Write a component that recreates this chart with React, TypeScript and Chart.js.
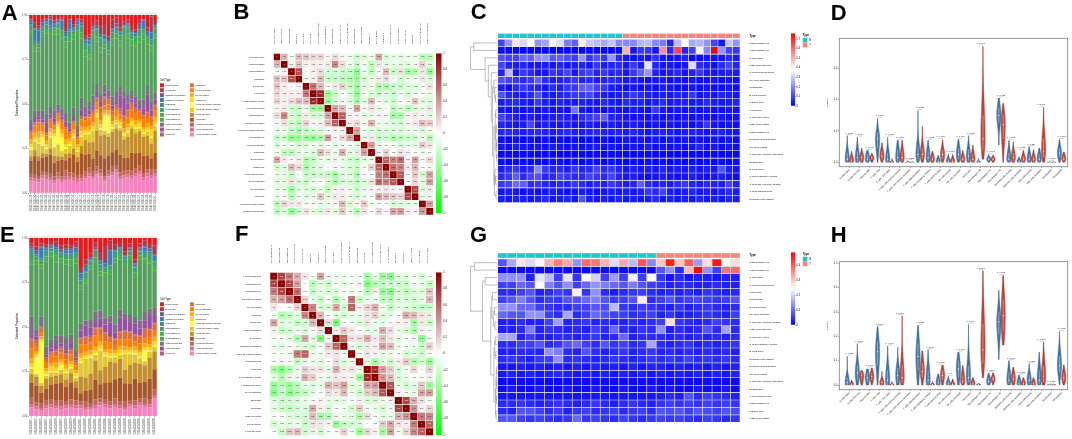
import React, { useEffect, useRef } from "react";
import { Chart, registerables } from "chart.js";

Chart.register(...registerables);

const FF = "'Liberation Sans', Arial, Helvetica, sans-serif";

// ================= shared categories =================
const cellTypes = [
  "B cells memory", "B cells naive", "Dendritic cells activated", "Dendritic cells resting",
  "Eosinophils", "Macrophages M0", "Macrophages M1", "Macrophages M2",
  "Mast cells activated", "Mast cells resting", "Monocytes", "Neutrophils",
  "NK cells activated", "NK cells resting", "Plasma cells", "T cells CD4 memory activated",
  "T cells CD4 memory resting", "T cells CD4 naive", "T cells CD8", "T cells follicular helper",
  "T cells gamma delta", "T cells regulatory (Tregs)",
];
const cellColors = [
  "#E41A1C", "#AA3B50", "#715D84", "#377EB8", "#3E8E93", "#469F6F", "#4DAF4A", "#56A05E",
  "#7F6E85", "#984EA3", "#BA5E6D", "#DD6F36", "#FF7F00", "#FFAA11", "#FFD422", "#FFFF33",
  "#E1C72F", "#C48E2C", "#A65628", "#C1645A", "#DC738D", "#F781BF",
];
const propTicks = [0, 0.25, 0.5, 0.75, 1];

// ================= Panel A (stacked proportions, 33 samples) =================
const samplesA = [
  "GSM1603129", "GSM1603130", "GSM1603131", "GSM1603132", "GSM1603133", "GSM1603134", "GSM1603135",
  "GSM1603136", "GSM1603137", "GSM1603138", "GSM1603139", "GSM1603140", "GSM1603141", "GSM1603142",
  "GSM1603143", "GSM1603144", "GSM1603145", "GSM1603146", "GSM1603147", "GSM1603148", "GSM1603149",
  "GSM1603150", "GSM1603151", "GSM1603152", "GSM1603153", "GSM1603154", "GSM1603155", "GSM1603156",
  "GSM1603157", "GSM1603158", "GSM1603159", "GSM1603160", "GSM1603161",
];
// rows follow cellTypes order, values in percent
const propA = [
  [2,5,7,3,2,1,4,2,2,8,2, 6,2,3,14,14,5,4,8,7,18,3, 2,9,5,3,7,10,3,2,9,1,4],
  [1,4,2,1,1,1,2,1,1,2,1, 2,1,2,3,2,3,4,6,8,3,6, 4,3,2,3,4,2,3,1,3,10,2],
  [1,1,1,1,1,1,1,1,1,1,1, 1,1,1,1,2,1,1,1,1,1,1, 2,1,1,1,1,1,1,1,1,1,1],
  [2,7,8,3,1,4,1,1,6,2,6, 1,2,1,2,3,1,1,1,3,2,1, 1,1,1,1,1,1,2,5,2,5,1],
  [1,2,1,1,1,2,1,1,1,1,1, 1,1,1,1,1,1,1,1,1,1,1, 1,1,1,1,1,1,1,1,1,1,1],
  [3,2,2,2,3,2,2,3,2,2,4, 2,3,4,4,6,3,5,6,3,5,4, 3,4,5,4,3,4,5,3,2,3,4],
  [3,4,3,4,3,4,3,4,4,4,3, 3,4,4,4,4,3,4,4,3,3,5, 4,4,3,4,4,3,4,4,3,4,3],
  [55,40,38,50,52,45,55,48,50,40,55, 45,56,40,35,30,40,32,30,28,30,35, 38,30,42,40,32,35,40,42,30,35,36],
  [5,5,4,6,5,5,6,4,6,5,4, 6,5,8,5,6,8,6,5,6,5,6, 7,6,5,6,6,5,5,6,6,6,5],
  [2,3,2,2,6,2,3,1,2,3,2, 2,2,5,2,3,2,4,3,3,2,3, 2,10,14,4,2,3,2,4,12,4,3],
  [1,1,1,1,1,1,1,1,1,1,1, 1,1,1,1,1,1,1,1,1,1,1, 1,1,1,1,1,1,1,1,1,1,1],
  [1,1,1,1,1,1,1,1,1,1,1, 1,1,1,2,1,2,3,4,6,4,3, 2,3,4,5,4,3,2,3,4,3,3],
  [4,5,6,4,3,5,3,4,5,6,3, 4,3,5,5,6,6,5,5,4,5,4, 5,4,5,4,6,5,4,5,4,3,5],
  [3,3,4,2,3,2,3,2,3,3,2, 3,2,3,2,3,3,3,3,2,3,2, 3,2,3,3,2,3,2,2,3,2,3],
  [2,2,3,2,2,3,2,2,3,2,2, 2,2,3,2,2,2,2,3,2,2,2, 2,3,2,3,2,2,3,2,2,5,2],
  [2,1,1,6,1,1,8,12,10,1,1, 1,1,1,1,1,1,1,1,12,14,1, 1,1,1,1,1,1,1,1,1,1,1],
  [4,6,8,5,3,7,6,8,4,3,5, 7,3,6,4,6,8,10,4,3,3,2, 3,2,3,3,2,3,2,2,3,4,3],
  [3,4,3,3,2,4,5,3,2,4,3, 4,3,5,10,8,12,15,14,18,16,14, 15,18,14,15,17,14,15,13,14,10,15],
  [8,12,10,9,10,12,10,8,12,6,10, 12,9,14,12,10,9,12,10,14,12,10, 11,13,10,9,12,11,9,12,10,8,11],
  [3,3,2,3,2,3,3,3,2,4,3, 3,2,3,3,4,3,4,3,2,3,4, 3,3,4,3,4,3,4,3,3,4,3],
  [2,2,2,2,2,2,2,2,2,2,2, 2,2,2,2,2,2,2,2,2,2,2, 2,2,2,2,2,2,2,2,2,2,2],
  [8,8,7,10,9,8,7,9,8,8,9, 8,7,8,10,12,10,14,12,9,14,12, 15,10,12,11,10,12,13,9,12,10,11],
];

// ================= Panel E (stacked proportions, 26 samples) =================
const samplesE = [
  "GSM3330071", "GSM3330072", "GSM3330073", "GSM3330074", "GSM3330075", "GSM3330076", "GSM3330077",
  "GSM3330078", "GSM3330079", "GSM3330080", "GSM3330081", "GSM3330082", "GSM3330083", "GSM3330084",
  "GSM3330085", "GSM3330086", "GSM3330087", "GSM3330088", "GSM3330089", "GSM3330090", "GSM3330091",
  "GSM3330092", "GSM3330093", "GSM3330094", "GSM3330095", "GSM3330096",
];
const propE = [
  [3,6,4,4,2,2,5,4,5,2,22, 16,12,3,10,6,2,5,3,10,4,16, 4,2,4,5],
  [2,3,2,2,2,3,3,3,2,3,3, 4,3,4,6,12,6,3,3,3,3,3, 3,4,3,6],
  [1,1,1,1,1,1,1,1,1,1,1, 1,1,1,1,1,1,1,1,1,1,1, 1,1,1,1],
  [1,2,8,1,1,1,1,2,2,3,4, 4,1,1,1,2,10,1,1,1,1,1, 1,3,1,3],
  [1,1,1,1,1,1,1,1,1,1,1, 1,1,1,1,1,1,1,1,1,1,1, 1,1,1,1],
  [4,3,3,3,2,3,3,3,3,3,4, 4,3,4,5,4,4,4,3,3,3,4, 3,4,4,3],
  [3,4,3,3,3,4,3,3,4,3,3, 4,3,4,3,4,3,3,4,3,4,3, 3,4,3,3],
  [30,45,35,55,55,45,50,48,45,55,25, 28,38,35,25,30,30,45,38,35,40,30, 45,35,30,25],
  [10,5,6,5,6,6,6,8,6,4,5, 4,6,8,6,5,5,6,6,5,6,5, 6,6,5,6],
  [2,3,1,2,2,3,2,2,3,2,5, 8,6,3,6,6,10,4,10,8,6,8, 5,6,8,4],
  [1,1,1,1,1,1,1,1,1,1,1, 1,1,1,1,1,1,1,1,1,1,1, 1,1,1,1],
  [5,3,3,2,2,3,3,3,3,2,4, 5,4,5,4,6,4,4,5,6,5,4, 5,6,5,5],
  [6,4,3,4,5,4,5,3,4,3,7, 5,6,8,5,6,5,4,5,5,6,4, 5,4,5,4],
  [3,2,2,2,2,3,2,3,2,2,3, 3,3,3,3,2,3,2,3,3,2,3, 2,3,2,3],
  [2,2,2,2,3,2,2,2,2,2,3, 2,2,2,3,2,2,2,3,2,2,2, 3,2,2,3],
  [1,12,30,1,1,1,3,1,1,1,1, 1,1,1,1,1,1,1,1,1,1,1, 1,8,1,1],
  [3,2,2,2,3,2,3,4,3,2,10, 14,12,4,14,8,3,4,3,12,8,6, 4,3,4,3],
  [5,6,5,6,5,5,6,5,6,4,12, 10,12,14,10,12,15,12,14,10,14,12, 14,12,14,12],
  [8,12,8,8,10,10,12,9,11,8,6, 8,10,14,10,12,14,14,18,14,12,16, 12,12,14,14],
  [4,3,3,3,3,3,4,3,3,3,3, 4,3,4,3,4,3,4,3,4,3,4, 3,4,3,4],
  [2,2,2,2,2,2,2,2,2,2,2, 2,2,2,2,2,2,2,2,2,2,2, 2,2,2,2],
  [5,5,4,5,6,5,5,5,6,5,6, 5,5,6,8,7,6,7,6,5,7,6, 8,7,6,12],
];

// ================= Panel B (correlation, 22 cell types) =================
const corrNamesB = [
  "T cells CD4 naive", "Mast cells resting", "Macrophages M0", "Neutrophils", "B cells naive",
  "T cells CD8", "T cells regulatory (Tregs)", "T cells gamma delta", "Macrophages M1",
  "Dendritic cells resting", "T cells CD4 memory activated", "Macrophages M2", "Mast cells activated",
  "Eosinophils", "B cells memory", "Plasma cells", "T cells follicular helper", "NK cells activated",
  "NK cells resting", "Monocytes", "T cells CD4 memory resting", "Dendritic cells activated",
];
// upper triangle, row i holds r(i, j) for j > i
const corrUpperB = [
  [0.29,-0.05,0.26,0.23,0.16,0.17,0.04,0.14,0.04,-0.08,-0.21,-0.17,-0.07,0.35,-0.2,-0.1,-0.13,-0.08,-0.09,-0.29,-0.27],
  [0.05,0.24,0.06,0.08,0.06,0.09,0.47,0.14,-0.09,-0.23,-0.06,-0.26,0.1,-0.13,-0.1,-0.14,-0.13,-0.03,0.18,-0.15],
  [0.69,0,0.07,0.15,-0.2,-0.18,-0.21,-0.23,-0.46,-0.06,-0.26,0.01,0.27,-0.24,0.13,-0.37,-0.3,0.1,-0.42],
  [0.03,0.07,0.27,-0.23,-0.24,-0.28,-0.32,-0.4,-0.18,-0.09,0.08,0.15,0,-0.2,-0.1,-0.06,0.1,-0.18],
  [0.53,0.27,-0.05,0.09,0.18,-0.23,-0.38,-0.14,-0.09,-0.33,-0.35,-0.21,-0.24,-0.14,-0.13,-0.05,0.11],
  [0.86,-0.41,-0.2,0.02,-0.14,-0.43,-0.04,-0.16,-0.23,-0.13,-0.22,-0.05,-0.18,-0.08,-0.03,-0.09],
  [-0.39,-0.17,0.05,-0.14,-0.33,-0.12,0.28,-0.05,-0.14,-0.2,0.01,-0.09,0.24,-0.12,-0.17],
  [0.35,0.27,-0.05,0.38,-0.02,0.12,-0.12,0,-0.25,-0.16,-0.27,-0.15,-0.09,0.11],
  [0.63,0.05,0.04,-0.13,-0.09,0.06,0.03,-0.37,-0.34,0.05,0.1,0.05,-0.13],
  [0.07,0.15,0.05,0.31,-0.1,-0.09,-0.12,-0.18,0.06,0.09,0.27,0.21],
  [0.34,-0.07,-0.12,-0.18,-0.16,-0.13,-0.17,-0.09,-0.07,-0.16,-0.08],
  [-0.08,0.1,-0.26,-0.19,-0.32,-0.23,-0.2,-0.18,0.05,-0.31],
  [0.37,-0.12,-0.04,0.01,-0.15,-0.09,-0.1,0.21,0.11],
  [0.03,0.17,-0.03,0.12,0.06,-0.01,-0.07,0.01],
  [0.62,0.5,0.58,0.05,0.38,-0.06,0.16],
  [0.56,0.49,0.1,0.29,-0.01,0.04],
  [0.66,0.04,0.21,-0.18,0.36],
  [-0.02,0.16,-0.13,0.39],
  [0.72,-0.12,0.08],
  [-0.07,0.05],
  [0.38],
];

// ================= Panel F (correlation, 21 cell types) =================
const corrNamesF = [
  "T cells gamma delta", "Macrophages M0", "Macrophages M1", "Dendritic cells resting", "NK cells resting",
  "Monocytes", "Plasma cells", "Mast cells activated", "B cells naive", "Dendritic cells activated",
  "T cells CD4 memory resting", "Macrophages M2", "T cells CD8", "T cells regulatory (Tregs)",
  "T cells follicular helper", "NK cells activated", "Eosinophils", "Neutrophils", "Mast cells resting",
  "B cells memory", "T cells CD4 naive",
];
const corrUpperF = [
  [0.73,0.52,0.31,0.1,-0.04,0.36,0.05,-0.06,-0.07,-0.04,-0.05,-0.34,-0.1,-0.42,-0.5,-0.13,-0.12,-0.06,-0.18,-0.02],
  [0.72,0.37,0,-0.3,-0.14,-0.22,0.01,-0.12,-0.04,0.06,-0.5,-0.3,-0.25,-0.21,-0.23,-0.21,-0.03,-0.08,-0.23],
  [0.56,0.01,-0.23,-0.1,-0.18,-0.11,0.02,-0.08,-0.03,-0.29,0.07,-0.41,-0.48,-0.17,-0.26,-0.14,-0.14,0.23],
  [0.17,-0.1,-0.25,-0.03,-0.31,-0.1,0.51,-0.23,-0.06,-0.08,-0.27,-0.29,-0.17,-0.16,-0.18,-0.07,0.27],
  [0.47,-0.18,-0.17,0.34,-0.16,0.61,0.06,0.18,0.31,-0.06,-0.26,-0.1,-0.15,-0.18,-0.23,-0.21],
  [0.27,-0.01,-0.12,-0.18,-0.09,-0.08,0.11,0.2,-0.15,-0.09,-0.02,0.32,0.27,0.12,0.08],
  [0.13,-0.54,-0.01,-0.05,-0.15,0.11,-0.07,-0.1,-0.01,0.06,0.07,-0.38,0.1,-0.23],
  [0.05,0.21,0.09,-0.01,-0.12,-0.11,0.31,0.14,-0.1,-0.18,-0.32,0.05,-0.04],
  [0.61,0.11,0.13,0.31,0.1,0.24,0.1,-0.12,-0.03,0.05,-0.44,-0.06],
  [-0.05,-0.16,0.1,0.07,0.37,0.27,-0.1,-0.04,-0.1,-0.23,0.19],
  [-0.06,0.11,0.06,-0.13,-0.07,-0.01,-0.2,-0.11,-0.2,-0.05],
  [-0.1,-0.36,-0.1,-0.22,0.07,0.21,-0.33,-0.15,-0.42],
  [0.84,0.36,0.2,-0.17,-0.06,0.15,0,0.17],
  [0.39,0.28,-0.17,-0.1,-0.03,-0.06,0.06],
  [0.67,-0.09,-0.19,-0.13,0.21,-0.4],
  [0.06,-0.07,-0.09,0.35,0.38],
  [0.73,0.31,0.12,-0.06],
  [0.42,0.07,0.17],
  [0.51,0.47],
  [0.62],
];
const corrTicks = [1, 0.8, 0.6, 0.4, 0.2, 0, -0.2, -0.4, -0.6, -0.8, -1];

// ================= Panel C (heatmap, 33 samples) =================
const typeKeys = ["N", "T"];
const typeColors = ["#1CC7CD", "#F2857D"];
const typesC = "NNNNNNNNNNNNNNNNNTTTTTTTTTTTTTTTT".split("");
const rowsC = [
  "Macrophages M2", "Macrophages M0", "T cells CD8", "Mast cells activated", "T cells follicular helper",
  "NK cells activated", "Neutrophils", "B cells memory", "Plasma cells", "Monocytes", "T cells CD4 naive",
  "Mast cells resting", "Macrophages M1", "Dendritic cells activated", "NK cells resting",
  "T cells CD4 memory activated", "Eosinophils", "B cells naive", "T cells regulatory (Tregs)",
  "T cells CD4 memory resting", "T cells gamma delta", "Dendritic cells resting",
];
// percent; 17 N columns then 16 T columns
const heatC = [
  [10,22,42,32,38,22,24,37,33,18,14,41,30,28,25,29,20, 20,20,27,28,20,18,5,28,38,25,27,22,10,3,30,22],
  [2,1,1,1,1,1,1,1,1,1,1,1,1,1,1,1,1, 50,3,8,8,3,55,6,66,5,10,37,20,76,22,10,8],
  [12,10,10,15,14,21,22,13,14,11,9,22,8,12,8,22,6, 3,2,4,3,7,3,2,3,5,2,2,3,2,3,6,4],
  [10,5,4,5,3,3,4,3,5,3,4,5,3,8,4,5,6, 3,8,4,34,5,3,3,2,3,33,6,4,2,6,10,5],
  [5,28,3,8,6,3,3,8,6,10,3,8,10,5,8,5,6, 3,8,14,22,5,3,4,6,3,5,8,4,3,4,5,4],
  [12,10,8,6,8,14,6,4,5,6,8,5,6,4,5,6,5, 3,4,3,2,3,4,2,3,2,3,2,2,3,2,3,2],
  [4,2,6,8,6,5,3,6,4,8,8,14,14,10,8,4,3, 2,3,2,3,2,4,3,2,2,3,2,3,2,2,3,2],
  [12,6,4,4,6,12,4,3,5,6,8,8,10,6,4,3,4, 5,8,6,4,3,4,3,5,4,8,3,4,3,5,4,3],
  [4,5,6,4,3,8,4,3,5,4,3,5,4,3,6,4,3, 6,4,5,3,4,6,3,4,5,3,4,6,4,3,4,5],
  [3,2,3,2,3,2,3,2,3,2,17,3,2,3,2,3,2, 2,3,2,2,8,3,2,3,2,3,2,3,2,2,3,2],
  [10,6,4,3,4,3,3,4,5,4,3,6,8,10,14,5,4, 3,2,3,2,3,2,3,2,3,2,3,2,2,3,2,3],
  [5,4,3,4,10,3,4,3,3,4,3,3,4,3,3,4,3, 3,4,3,2,3,2,3,2,3,2,3,8,3,2,3,2],
  [5,6,5,4,5,6,5,4,5,6,5,4,5,6,5,4,5, 4,5,4,3,4,5,4,3,4,5,4,3,4,5,4,3],
  [2,1,2,1,2,1,2,1,2,1,2,1,2,1,2,1,2, 3,2,3,2,3,2,3,2,3,2,3,2,3,2,3,2],
  [3,2,4,3,2,3,2,4,3,2,3,2,3,4,2,3,2, 2,3,2,4,2,3,2,3,2,3,5,2,3,2,3,2],
  [1,1,1,1,1,1,1,1,1,1,1,1,1,1,1,1,1, 1,1,1,1,1,1,1,1,1,1,1,1,1,1,1,1],
  [2,1,2,2,1,2,1,2,2,1,2,1,2,2,1,2,1, 1,2,1,2,1,2,1,2,1,2,1,2,1,2,1,2],
  [4,6,8,4,6,20,8,5,6,4,8,5,6,10,6,8,5, 3,4,3,4,3,5,3,4,3,4,3,4,3,12,4,3],
  [6,8,14,6,10,12,5,6,10,8,6,6,10,8,6,10,5, 3,4,3,2,3,4,3,2,3,4,3,2,3,4,3,2],
  [8,10,16,14,6,8,5,4,6,5,8,6,4,6,5,8,6, 4,5,14,6,4,5,4,6,8,5,4,6,5,4,10,5],
  [3,4,3,2,3,2,3,4,3,2,3,4,3,2,3,4,3, 4,3,4,8,6,10,4,3,4,5,3,4,3,4,6,4],
  [4,3,5,4,3,4,6,3,4,5,3,12,4,3,4,3,5, 3,4,3,4,6,3,4,3,4,3,5,3,4,3,5,4],
];
const vmaxC = 76;
const cbTicksC = [0, 0.1, 0.2, 0.3, 0.4, 0.5, 0.6, 0.7];
// hclust merges: [a, b, height]; negative = row (1-based), positive = earlier merge
const mergesC = [
  [-8,-9,0.06],[-7,1,0.09],[-6,2,0.12],[-10,-11,0.05],[-12,-13,0.03],[-14,-15,0.02],[-16,-17,0.015],
  [6,7,0.03],[5,8,0.05],[4,9,0.07],[-19,-20,0.06],[-18,11,0.08],[-21,-22,0.04],[12,13,0.1],
  [10,14,0.12],[3,15,0.17],[-5,16,0.22],[-4,17,0.33],[-3,18,0.45],[-1,-2,0.88],[20,19,1.0],
];

// ================= Panel G (heatmap, 26 samples) =================
const typesG = "NNNNNNNNNNNNNNNNNTTTTTTTTT".split("");
const rowsG = [
  "Macrophages M2", "Macrophages M0", "T cells CD8", "T cells follicular helper", "Monocytes", "Neutrophils",
  "B cells memory", "NK cells activated", "T cells CD4 memory resting", "Mast cells activated",
  "T cells CD4 naive", "T cells regulatory (Tregs)", "B cells naive", "Dendritic cells resting",
  "Dendritic cells activated", "NK cells resting", "T cells CD4 memory activated", "Eosinophils",
  "T cells gamma delta", "Macrophages M1", "Plasma cells", "Mast cells resting",
];
const heatG = [
  [8,16,27,21,25,32,37,33,14,39,38,32,21,33,18,41,13, 30,46,30,40,15,28,47,24,28],
  [1,1,1,1,1,1,1,1,1,1,1,1,1,1,1,1,1, 8,14,4,31,48,14,6,38,39],
  [14,14,14,3,22,18,6,22,5,24,20,6,15,6,23,6,25, 5,2,4,2,3,3,2,3,3],
  [6,6,10,8,25,12,8,14,6,10,14,12,10,8,12,8,6, 5,3,4,4,3,3,4,3,3],
  [4,4,6,8,3,4,6,5,26,5,14,4,3,4,5,6,4, 3,4,3,4,3,5,4,3,4],
  [6,8,12,8,4,6,5,8,8,10,12,8,6,6,8,26,4, 6,8,5,6,7,6,5,6,8],
  [14,14,10,10,6,5,4,4,6,6,8,7,18,5,4,6,5, 4,3,5,3,4,5,4,3,4],
  [10,8,8,14,14,6,4,16,4,6,10,8,6,6,4,5,6, 3,5,3,3,4,5,4,3,6],
  [3,3,4,3,3,6,15,3,4,5,3,4,3,3,4,3,4, 6,28,5,4,3,4,6,5,4],
  [3,3,4,12,3,5,4,3,4,3,6,4,10,4,3,5,4, 14,3,4,3,4,8,4,16,4],
  [16,16,3,6,3,3,4,4,3,4,5,3,4,10,3,4,4, 4,3,4,3,4,3,4,3,4],
  [4,4,6,6,8,4,5,8,10,6,4,8,5,6,4,5,16, 4,3,4,5,3,4,3,4,5],
  [3,3,4,4,3,14,12,4,3,8,4,3,4,5,3,4,5, 3,4,3,4,3,4,3,4,3],
  [4,5,4,3,5,6,14,4,5,4,3,4,5,4,3,4,5, 4,5,4,6,4,5,4,5,4],
  [2,2,3,2,3,2,3,2,3,2,3,2,3,2,3,2,3, 3,2,3,2,3,2,3,2,3],
  [2,3,2,3,2,3,4,3,2,3,2,3,2,3,2,3,2, 3,2,3,2,3,2,3,2,3],
  [1,1,1,1,1,1,1,1,1,1,1,1,1,1,1,1,1, 1,1,1,1,1,1,1,1,1],
  [1,2,1,1,2,1,1,2,1,1,2,1,1,2,1,1,2, 1,2,1,1,2,1,1,2,1],
  [2,2,2,2,2,2,2,2,2,2,2,2,2,2,2,2,2, 3,4,3,8,4,6,5,4,3],
  [4,4,5,4,3,4,5,4,3,4,5,4,3,4,5,4,3, 5,6,5,6,5,6,5,6,5],
  [4,3,8,8,6,4,6,3,5,6,4,5,6,4,5,6,4, 8,7,8,6,8,7,6,8,7],
  [8,8,6,5,6,5,4,5,10,5,6,5,4,6,5,4,5, 6,5,6,5,4,6,5,4,5],
];
const vmaxG = 49;
const cbTicksG = [0, 0.1, 0.2, 0.3, 0.4];
const mergesG = [
  [-3,-4,0.45],[-5,-6,0.18],[-7,-8,0.1],[-9,-10,0.08],[3,4,0.14],[2,5,0.2],[-11,-12,0.07],
  [-13,-14,0.05],[7,8,0.09],[-15,-16,0.02],[-17,-18,0.01],[10,11,0.03],[-19,-20,0.02],[12,13,0.04],
  [-21,-22,0.04],[14,15,0.06],[9,16,0.12],[6,17,0.24],[1,18,0.55],[-1,-2,0.85],[20,19,1.0],
];

// ================= Panels D / H (violins) =================
const violinCats = [
  "B cells naive", "B cells memory", "Plasma cells", "T cells CD8", "T cells CD4 naive",
  "T cells CD4 memory resting", "T cells CD4 memory activated", "T cells follicular helper",
  "T cells regulatory (Tregs)", "T cells gamma delta", "NK cells resting", "NK cells activated",
  "Monocytes", "Macrophages M0", "Macrophages M1", "Macrophages M2", "Dendritic cells resting",
  "Dendritic cells activated", "Mast cells resting", "Mast cells activated", "Eosinophils", "Neutrophils",
];
const dNMin = [0,0,0,0,0,0,0,0,0,0,0,0,0,0,0,0.11,0,0,0,0,0,0];
const dNQ1 = [0,0.005,0.005,0.09,0,0.005,0,0.02,0.01,0,0,0.02,0.01,0,0.01,0.25,0.005,0,0.005,0.005,0,0.03];
const dNMed = [0.02,0.03,0.02,0.15,0.02,0.03,0,0.05,0.03,0.005,0.005,0.05,0.04,0.002,0.02,0.3,0.02,0.005,0.02,0.02,0,0.06];
const dNQ3 = [0.06,0.07,0.05,0.19,0.06,0.08,0.002,0.1,0.07,0.02,0.02,0.09,0.08,0.006,0.03,0.35,0.06,0.015,0.05,0.05,0.001,0.09];
const dNMax = [0.17,0.16,0.075,0.28,0.16,0.14,0.01,0.33,0.14,0.045,0.05,0.145,0.17,0.025,0.05,0.41,0.14,0.035,0.1,0.09,0.005,0.145];
const dTMin = [0,0,0,0,0,0,0,0,0,0,0,0,0,0.02,0,0,0,0,0,0,0,0];
const dTQ1 = [0,0.01,0.015,0.02,0,0.01,0,0.02,0.005,0.02,0,0.005,0.005,0.08,0.01,0.15,0.01,0.005,0.005,0.03,0,0.01];
const dTMed = [0.01,0.03,0.03,0.04,0.002,0.03,0,0.05,0.02,0.05,0.005,0.02,0.02,0.15,0.02,0.24,0.03,0.02,0.02,0.07,0,0.02];
const dTQ3 = [0.03,0.05,0.04,0.07,0.006,0.07,0.001,0.09,0.04,0.08,0.02,0.04,0.05,0.3,0.03,0.3,0.06,0.04,0.04,0.15,0.001,0.04];
const dTMax = [0.07,0.09,0.057,0.125,0.025,0.14,0.005,0.23,0.07,0.145,0.05,0.075,0.11,0.74,0.045,0.375,0.13,0.075,0.08,0.35,0.005,0.065];
const pD = ["p=0.059","p=0.064","p=0.466","p<0.001","p=0.002","p=0.510","p=0.333","p=0.336","p=0.003","p=0.003","p=0.015","p=0.006","p=0.068","p<0.001","p=0.271","p=0.023","p=0.393","p=0.028","p=0.324","p<0.001","p=0.160","p=0.001"];
const dTicks = [0, 0.2, 0.4, 0.6];

const hNMin = [0,0,0,0,0,0,0,0,0,0,0,0,0,0,0,0.105,0,0,0,0,0,0];
const hNQ1 = [0,0.02,0.01,0.08,0,0.01,0,0.06,0.005,0,0,0.03,0.01,0,0.005,0.21,0.005,0,0.005,0.005,0,0.05];
const hNMed = [0.01,0.05,0.03,0.137,0.02,0.04,0,0.118,0.02,0.01,0.005,0.066,0.03,0.001,0.015,0.26,0.02,0.005,0.02,0.02,0,0.08];
const hNQ3 = [0.03,0.08,0.05,0.18,0.06,0.07,0,0.17,0.06,0.025,0.015,0.1,0.08,0.003,0.03,0.3,0.05,0.02,0.04,0.06,0.001,0.12];
const hNMax = [0.118,0.17,0.066,0.24,0.16,0.155,0,0.245,0.145,0.045,0.035,0.135,0.25,0.007,0.048,0.39,0.1,0.041,0.088,0.135,0.003,0.22];
const hTMin = [0,0,0,0,0,0,0,0,0,0,0,0,0,0.03,0,0.165,0,0,0,0,0,0];
const hTQ1 = [0,0.02,0.02,0,0,0.01,0,0.03,0,0.02,0,0.005,0,0.09,0.015,0.22,0.01,0,0,0.01,0,0.015];
const hTMed = [0.002,0.04,0.035,0.01,0.002,0.03,0,0.055,0.002,0.04,0.003,0.015,0.005,0.145,0.025,0.285,0.025,0.005,0.005,0.035,0,0.03];
const hTQ3 = [0.008,0.05,0.05,0.02,0.004,0.08,0,0.09,0.005,0.06,0.01,0.04,0.015,0.25,0.035,0.35,0.045,0.015,0.015,0.08,0.001,0.05];
const hTMax = [0.02,0.06,0.07,0.056,0.015,0.285,0,0.14,0.015,0.082,0.025,0.08,0.03,0.47,0.05,0.45,0.073,0.03,0.03,0.175,0.003,0.083];
const pH = ["p=0.755","p=0.079","p=0.989","p<0.001","p=0.006","p=0.737","","p=0.326","p=0.004","p=0.063","p=1","p=0.080","p=0.048","p<0.001","p=0.574","p=0.033","p=0.364","p=0.382","p=0.093","p=0.567","p=0.156","p=0.030"];
const hTicks = [0, 0.1, 0.2, 0.3, 0.4, 0.5];

// ================= helpers =================
function bwr(t: number) {
  t = Math.max(0, Math.min(1, t));
  if (t < 0.5) {
    const k = Math.round(255 * (t / 0.5));
    return `rgb(${k},${k},255)`;
  }
  const k = Math.round(255 * ((1 - t) / 0.5));
  return `rgb(255,${k},${k})`;
}
function corrColor(v: number) {
  if (v < 0) {
    const k = Math.round(255 * (1 + v));
    return `rgb(${k},255,${k})`;
  }
  const r = Math.round(255 + (139 - 255) * v);
  const gb = Math.round(255 * (1 - v));
  return `rgb(${r},${gb},${gb})`;
}
function fmtCorr(v: number) {
  const r = Math.round(v * 100) / 100;
  return r === 0 ? "0" : String(r);
}
function fullMatrix(n: number, upper: number[][]) {
  const M = Array.from({ length: n }, () => Array(n).fill(1));
  upper.forEach((row, i) => row.forEach((v, k) => { const j = i + 1 + k; M[i][j] = v; M[j][i] = v; }));
  return M;
}
const base = (padding: any) => ({
  animation: false,
  responsive: false,
  maintainAspectRatio: false,
  events: [],
  layout: { padding },
  plugins: { legend: { display: false }, tooltip: { enabled: false }, title: { display: false } },
});
const tickGrid = { drawOnChartArea: false, offset: false, tickLength: 1.3, lineWidth: 0.4, color: "#333" };

// ================= plugins =================
const ggPanel = {
  id: "ggPanel",
  beforeDatasetsDraw(chart: any) {
    const { ctx, chartArea: a } = chart;
    ctx.save();
    ctx.fillStyle = "#EBEBEB";
    ctx.fillRect(a.left, a.top, a.right - a.left, a.bottom - a.top);
    ctx.restore();
  },
};
const cellLegend = {
  id: "cellLegend",
  afterDraw(chart: any) {
    const ctx = chart.ctx;
    ctx.save();
    ctx.textBaseline = "middle";
    ctx.fillStyle = "#000";
    ctx.font = `2.6px ${FF}`;
    ctx.fillText("Cell Type", 160, 80);
    ctx.font = `1.9px ${FF}`;
    cellTypes.forEach((name, k) => {
      const col = Math.floor(k / 11), row = k % 11;
      const x = 160 + col * 30, yc = 85.3 + row * 4.92;
      ctx.fillStyle = cellColors[k];
      ctx.fillRect(x, yc - 2, 3.9, 4);
      ctx.fillStyle = "#000";
      ctx.fillText(name, x + 5.6, yc);
    });
    ctx.restore();
  },
};
const typeLegend = {
  id: "typeLegend",
  afterDraw(chart: any) {
    const ctx = chart.ctx;
    ctx.save();
    ctx.textBaseline = "middle";
    ctx.fillStyle = "#000";
    ctx.font = `bold 2.9px ${FF}`;
    ctx.fillText("Type", 332.7, 35.4);
    typeKeys.forEach((k, i) => {
      ctx.fillStyle = typeColors[i];
      ctx.fillRect(332.7, 37.7 + i * 4.8, 4.6, 4.8);
      ctx.fillStyle = "#000";
      ctx.font = `2.6px ${FF}`;
      ctx.fillText(k, 339.3, 40.1 + i * 4.8);
    });
    ctx.restore();
  },
};
function makeDendro(merges: number[][], offset: number, width: number) {
  return {
    id: "dendro",
    afterDraw(chart: any) {
      const ys = chart.scales.y;
      const left = chart.chartArea.left - 0.6;
      const ctx = chart.ctx;
      const hmax = Math.max(...merges.map((m) => m[2]));
      const nodeY: number[] = [], nodeH: number[] = [];
      const pos = (id: number) => id < 0
        ? { y: ys.getPixelForValue(offset + (-id - 1) + 0.5), h: 0 }
        : { y: nodeY[id - 1], h: nodeH[id - 1] };
      const X = (h: number) => left - (h / hmax) * width;
      ctx.save();
      ctx.strokeStyle = "#7d7d7d";
      ctx.lineWidth = 0.5;
      merges.forEach(([a, b, h], k) => {
        const A = pos(a), B = pos(b);
        ctx.beginPath();
        ctx.moveTo(X(A.h), A.y);
        ctx.lineTo(X(h), A.y);
        ctx.lineTo(X(h), B.y);
        ctx.lineTo(X(B.h), B.y);
        ctx.stroke();
        nodeY[k] = (A.y + B.y) / 2;
        nodeH[k] = h;
      });
      ctx.restore();
    },
  };
}
function makeCorrText(M: number[][]) {
  return {
    id: "corrText",
    afterDatasetsDraw(chart: any) {
      const ctx = chart.ctx;
      ctx.save();
      ctx.font = `1.7px ${FF}`;
      ctx.textAlign = "center";
      ctx.textBaseline = "middle";
      M.forEach((row, i) => {
        const meta = chart.getDatasetMeta(i);
        row.forEach((v, j) => {
          const el = meta.data[j];
          ctx.fillStyle = v > 0.6 ? "#fff" : "#111";
          ctx.fillText(fmtCorr(v), el.x, (el.y + el.base) / 2);
        });
      });
      ctx.restore();
    },
  };
}
const frame = {
  id: "frame",
  afterDraw(chart: any) {
    const { ctx, chartArea: a } = chart;
    ctx.save();
    ctx.strokeStyle = "#7f7f7f";
    ctx.lineWidth = 0.8;
    ctx.strokeRect(a.left, a.top, a.right - a.left, a.bottom - a.top);
    ctx.restore();
  },
};
function violinShape(v: number, mn: number, q1: number, md: number, q3: number, mx: number) {
  const r = mx - mn;
  const sLo = Math.max(md - q1, r * 0.05) * 1.4;
  const sHi = Math.max(q3 - md, r * 0.05) * 1.4;
  const s = v < md ? sLo : sHi;
  const core = Math.exp(-0.5 * ((v - md) / s) ** 2);
  const u = v > md ? (v - md) / Math.max(mx - md, 1e-9) : 0;
  return Math.max(core, 0.13 * (1 - u) + 0.03);
}
const violinStyle = [
  { fill: "#4A7BAA", line: "#2C5B86" },
  { fill: "#CC4A3E", line: "#8A2820" },
];
function makeViolins(stats: any[], pLabels: string[]) {
  return {
    id: "violins",
    afterDatasetsDraw(chart: any) {
      const ctx = chart.ctx;
      const ys = chart.scales.y;
      ctx.save();
      stats.forEach((st, d) => {
        const meta = chart.getDatasetMeta(d);
        meta.data.forEach((el: any, i: number) => {
          const mn = st.min[i], q1 = st.q1[i], md = st.med[i], q3 = st.q3[i], mx = st.max[i];
          if (mx - mn < 1e-6) return;
          const cx = el.x, hw = el.width / 2;
          const pts: number[][] = [];
          for (let s = 0; s <= 48; s++) {
            const v = mn + ((mx - mn) * s) / 48;
            pts.push([v, violinShape(v, mn, q1, md, q3, mx)]);
          }
          const fmax = Math.max(...pts.map((p) => p[1]));
          ctx.beginPath();
          pts.forEach(([v, f], k) => {
            const px = cx - (hw * f) / fmax, py = ys.getPixelForValue(v);
            if (k) ctx.lineTo(px, py); else ctx.moveTo(px, py);
          });
          for (let k = pts.length - 1; k >= 0; k--) {
            const [v, f] = pts[k];
            ctx.lineTo(cx + (hw * f) / fmax, ys.getPixelForValue(v));
          }
          ctx.closePath();
          ctx.fillStyle = violinStyle[d].fill;
          ctx.fill();
          ctx.lineWidth = 0.35;
          ctx.strokeStyle = violinStyle[d].line;
          ctx.stroke();
          // inner box plot
          ctx.beginPath();
          ctx.moveTo(cx, ys.getPixelForValue(mn));
          ctx.lineTo(cx, ys.getPixelForValue(mx));
          ctx.lineWidth = 0.35;
          ctx.strokeStyle = violinStyle[d].line;
          ctx.stroke();
          const y1 = ys.getPixelForValue(q1), y3 = ys.getPixelForValue(q3);
          ctx.fillStyle = "rgba(255,255,255,0.55)";
          ctx.fillRect(cx - 0.35, y3, 0.7, Math.max(y1 - y3, 0.4));
          ctx.beginPath();
          ctx.arc(cx, ys.getPixelForValue(md), 0.6, 0, Math.PI * 2);
          ctx.fillStyle = "#fff";
          ctx.fill();
        });
      });
      const mN = chart.getDatasetMeta(0), mT = chart.getDatasetMeta(1);
      ctx.font = `2.2px ${FF}`;
      ctx.textAlign = "center";
      ctx.textBaseline = "bottom";
      pLabels.forEach((lab, i) => {
        if (!lab) return;
        const top = Math.max(stats[0].max[i], stats[1].max[i]);
        const yp = ys.getPixelForValue(top);
        const xN = mN.data[i].x, xT = mT.data[i].x;
        ctx.beginPath();
        ctx.moveTo(xN, yp - 1.2);
        ctx.lineTo(xT, yp - 1.2);
        ctx.lineWidth = 0.35;
        ctx.strokeStyle = "#777";
        ctx.stroke();
        ctx.fillStyle = "#222";
        ctx.fillText(lab, (xN + xT) / 2, yp - 1.6);
      });
      ctx.restore();
    },
  };
}

// ================= chart configs =================
function stackConfig(samples: string[], prop: number[][], pad: any, yW: number, xH: number) {
  const totals = samples.map((_, j) => prop.reduce((s, row) => s + row[j], 0));
  const datasets = prop
    .map((row, k) => ({
      label: cellTypes[k],
      data: row.map((v, j) => v / totals[j]),
      backgroundColor: cellColors[k],
      borderWidth: 0,
      barPercentage: 0.88,
      categoryPercentage: 1,
    }))
    .reverse();
  return {
    type: "bar",
    data: { labels: samples, datasets },
    options: {
      ...base(pad),
      scales: {
        x: {
          stacked: true,
          grid: tickGrid,
          border: { display: false },
          ticks: { autoSkip: false, minRotation: 90, maxRotation: 90, padding: 0.6, color: "#4d4d4d", font: { family: FF, size: 2.6 } },
          afterFit: (s: any) => { s.height = xH; },
        },
        y: {
          stacked: true,
          min: 0,
          max: 1.013,
          grid: tickGrid,
          border: { display: false },
          afterBuildTicks: (s: any) => { s.ticks = propTicks.map((v) => ({ value: v })); },
          ticks: { callback: (v: any) => Number(v).toFixed(2), padding: 0.6, color: "#4d4d4d", font: { family: FF, size: 2.6 } },
          title: { display: true, text: "Estimated Proportion", color: "#000", padding: 0, font: { family: FF, size: 2.8 } },
          afterFit: (s: any) => { s.width = yW; },
        },
      },
    },
    plugins: [ggPanel, cellLegend],
  };
}

function corrConfig(names: string[], upper: number[][], pad: any, yW: number, xH: number) {
  const M = fullMatrix(names.length, upper);
  const datasets = M.map((row) => ({
    data: row.map(() => 1),
    backgroundColor: row.map(corrColor),
    borderColor: "#e2e2e2",
    borderWidth: 0.25,
    borderSkipped: false,
    barPercentage: 1,
    categoryPercentage: 1,
    inflateAmount: 0,
  }));
  return {
    type: "bar",
    data: { labels: names, datasets },
    options: {
      ...base(pad),
      scales: {
        x: {
          stacked: true,
          position: "top",
          grid: { display: false },
          border: { display: false },
          ticks: { autoSkip: false, minRotation: 90, maxRotation: 90, padding: 1, color: "#000", font: { family: FF, size: 2 } },
          afterFit: (s: any) => { s.height = xH; },
        },
        y: {
          stacked: true,
          reverse: true,
          min: 0,
          max: names.length,
          grid: { display: false },
          border: { display: false },
          afterBuildTicks: (s: any) => { s.ticks = names.map((_, i) => ({ value: i + 0.5 })); },
          ticks: { autoSkip: false, padding: 1, color: "#000", callback: (_v: any, i: number) => names[i], font: { family: FF, size: 2 } },
          afterFit: (s: any) => { s.width = yW; },
        },
      },
    },
    plugins: [makeCorrText(M)],
  };
}

function colorbarConfig(min: number, max: number, ticks: number[], stops: any[], pad: any, yW: number) {
  return {
    type: "bar",
    data: {
      labels: [""],
      datasets: [{
        data: [[min, max]],
        borderWidth: 0,
        barPercentage: 1,
        categoryPercentage: 1,
        inflateAmount: 0,
        backgroundColor: (c: any) => {
          const ca = c.chart.chartArea;
          if (!ca) return "rgba(0,0,0,0)";
          const g = c.chart.ctx.createLinearGradient(0, ca.bottom, 0, ca.top);
          stops.forEach(([o, col]: any) => g.addColorStop(o, col));
          return g;
        },
      }],
    },
    options: {
      ...base(pad),
      scales: {
        x: { display: false },
        y: {
          position: "right",
          min,
          max,
          grid: { drawOnChartArea: false, tickLength: 0.8, lineWidth: 0.3, color: "#000" },
          border: { display: false },
          afterBuildTicks: (s: any) => { s.ticks = ticks.map((v) => ({ value: v })); },
          ticks: { padding: 0.8, color: "#000", callback: (v: any) => String(Number(Number(v).toFixed(1))), font: { family: FF, size: 2.6 } },
          afterFit: (s: any) => { s.width = yW; },
        },
      },
    },
  };
}

function heatConfig(rowNames: string[], vals: number[][], types: string[], vmax: number, merges: number[][], pad: any) {
  const annoH = 0.67, gapH = 0.135, top = annoH + gapH;
  const border = "#a3a3a3";
  const datasets = [
    { data: types.map(() => annoH), backgroundColor: types.map((t) => typeColors[typeKeys.indexOf(t)]), borderColor: border, borderWidth: 0.3 },
    { data: types.map(() => gapH), backgroundColor: "rgba(0,0,0,0)", borderWidth: 0 },
    ...vals.map((row) => ({ data: row.map(() => 1), backgroundColor: row.map((v) => bwr(v / vmax)), borderColor: border, borderWidth: 0.3 })),
  ].map((d) => ({ ...d, barPercentage: 1, categoryPercentage: 1, borderSkipped: false, inflateAmount: 0 }));
  return {
    type: "bar",
    data: { labels: types.map((_, j) => String(j + 1)), datasets },
    options: {
      ...base(pad),
      scales: {
        x: { stacked: true, display: false },
        y: {
          stacked: true,
          reverse: true,
          min: 0,
          max: top + rowNames.length,
          position: "right",
          grid: { display: false },
          border: { display: false },
          afterBuildTicks: (s: any) => {
            s.ticks = [{ value: annoH / 2 }, ...rowNames.map((_, i) => ({ value: top + i + 0.5 }))];
          },
          ticks: {
            autoSkip: false,
            padding: 1.6,
            color: "#000",
            callback: (_v: any, i: number) => (i === 0 ? "Type" : rowNames[i - 1]),
            font: (c: any) => ({ family: FF, size: c.index === 0 ? 2.8 : 2.5, weight: c.index === 0 ? "bold" : "normal" }),
          },
          afterFit: (s: any) => { s.width = 50; },
        },
      },
    },
    plugins: [makeDendro(merges, top, 26.5), typeLegend],
  };
}

function violinConfig(nS: any, tS: any, pLabels: string[], yMin: number, yMax: number, yTicks: number[], pad: any, yW: number, xH: number) {
  const mk = (st: any, label: string) => ({
    label,
    data: st.max.map((mx: number, i: number) => ({ x: i, y: [st.min[i], mx] })),
    backgroundColor: "rgba(0,0,0,0)",
    borderWidth: 0,
    categoryPercentage: 0.86,
    barPercentage: 1,
  });
  return {
    type: "bar",
    data: { datasets: [mk(nS, "N"), mk(tS, "T")] },
    options: {
      ...base(pad),
      scales: {
        x: {
          type: "linear",
          offset: false,
          min: -1,
          max: 21.6,
          grid: tickGrid,
          border: { display: false },
          afterBuildTicks: (s: any) => { s.ticks = violinCats.map((_, i) => ({ value: i })); },
          ticks: { autoSkip: false, minRotation: 45, maxRotation: 45, padding: 0.5, color: "#222", callback: (v: any) => violinCats[v], font: { family: FF, size: 2.4 } },
          afterFit: (s: any) => { s.height = xH; },
        },
        y: {
          min: yMin,
          max: yMax,
          grid: tickGrid,
          border: { display: false },
          afterBuildTicks: (s: any) => { s.ticks = yTicks.map((v) => ({ value: v })); },
          ticks: { padding: 0.6, color: "#333", callback: (v: any) => Number(v).toFixed(1), font: { family: FF, size: 2.6 } },
          title: { display: true, text: "Fraction", color: "#000", padding: 0, font: { family: FF, size: 2.4 } },
          afterFit: (s: any) => { s.width = yW; },
        },
      },
    },
    plugins: [frame, makeViolins([nS, tS], pLabels)],
  };
}

// ================= components =================
function ChartBox({ x, y, w, h, make }: { x: number; y: number; w: number; h: number; make: () => any }) {
  const ref = useRef<HTMLCanvasElement>(null);
  useEffect(() => {
    const chart = new Chart(ref.current as HTMLCanvasElement, make());
    return () => chart.destroy();
  }, []);
  return <canvas ref={ref} width={w} height={h} style={{ position: "absolute", left: x, top: y, width: w, height: h }} />;
}

function Letter({ ch, x, y }: { ch: string; x: number; y: number }) {
  return (
    <div style={{ position: "absolute", left: x, top: y, font: `bold 22px ${FF}`, lineHeight: "22px", color: "#000" }}>{ch}</div>
  );
}

const corrStops = [[0, "#00FF00"], [0.5, "#FFFFFF"], [1, "#8B0000"]];
const heatStops = [[0, "#0000FF"], [0.5, "#FFFFFF"], [1, "#FF0000"]];
const dStats = { N: { min: dNMin, q1: dNQ1, med: dNMed, q3: dNQ3, max: dNMax }, T: { min: dTMin, q1: dTQ1, med: dTMed, q3: dTQ3, max: dTMax } };
const hStats = { N: { min: hNMin, q1: hNQ1, med: hNMed, q3: hNQ3, max: hNMax }, T: { min: hTMin, q1: hTQ1, med: hTMed, q3: hTQ3, max: hTMax } };

export default function App() {
  return (
    <div style={{ position: "fixed", left: 0, top: 0, width: 1072, height: 439, background: "#fff", overflow: "hidden" }}>
      <ChartBox x={0} y={0} w={230} h={219} make={() => stackConfig(samplesA, propA, { left: 16, top: 12.7, right: 73, bottom: 0 }, 13, 26)} />
      <ChartBox x={0} y={219} w={230} h={220} make={() => stackConfig(samplesE, propE, { left: 16, top: 16.7, right: 73, bottom: 0 }, 13, 22.7)} />

      <ChartBox x={220} y={0} w={250} h={219} make={() => corrConfig(corrNamesB, corrUpperB, { left: 13.3, top: 23.3, right: 36.7, bottom: 4 }, 40, 30)} />
      <ChartBox x={430} y={45} w={30} h={175} make={() => colorbarConfig(-1, 1, corrTicks, corrStops, { left: 6, top: 8.3, right: 6.3, bottom: 7 }, 12)} />
      <ChartBox x={220} y={219} w={250} h={220} make={() => corrConfig(corrNamesF, corrUpperF, { left: 10, top: 23.3, right: 36.7, bottom: 3.3 }, 40, 30)} />
      <ChartBox x={430} y={264} w={30} h={175} make={() => colorbarConfig(-1, 1, corrTicks, corrStops, { left: 6, top: 8.3, right: 6.3, bottom: 4 }, 12)} />

      <ChartBox x={470} y={0} w={345} h={219} make={() => heatConfig(rowsC, heatC, typesC, vmaxC, mergesC, { left: 27.7, top: 33.3, right: 25, bottom: 16.3 })} />
      <ChartBox x={785} y={28} w={22} h={85} make={() => colorbarConfig(0, vmaxC / 100, cbTicksC, heatStops, { left: 5.7, top: 5.3, right: 2, bottom: 7 }, 10)} />
      <ChartBox x={470} y={219} w={345} h={220} make={() => heatConfig(rowsG, heatG, typesG, vmaxG, mergesG, { left: 27.7, top: 34, right: 25, bottom: 16.7 })} />
      <ChartBox x={785} y={247} w={22} h={85} make={() => colorbarConfig(0, vmaxG / 100, cbTicksG, heatStops, { left: 5.7, top: 5.3, right: 2, bottom: 7 }, 10)} />

      <ChartBox x={815} y={0} w={257} h={219} make={() => violinConfig(dStats.N, dStats.T, pD, -0.028, 0.791, dTicks, { left: 10.5, top: 38.3, right: 4.3, bottom: 0 }, 13.8, 52.3)} />
      <ChartBox x={815} y={219} w={257} h={220} make={() => violinConfig(hStats.N, hStats.T, pH, -0.0193, 0.507, hTicks, { left: 10.5, top: 42.7, right: 4.3, bottom: 0 }, 13.8, 49.3)} />

      <Letter ch="A" x={1.7} y={2.1} />
      <Letter ch="B" x={233.5} y={1.1} />
      <Letter ch="C" x={470.7} y={1.1} />
      <Letter ch="D" x={830.7} y={2.1} />
      <Letter ch="E" x={0} y={224.4} />
      <Letter ch="F" x={235} y={223.4} />
      <Letter ch="G" x={470} y={224.4} />
      <Letter ch="H" x={830.7} y={224.4} />
    </div>
  );
}
